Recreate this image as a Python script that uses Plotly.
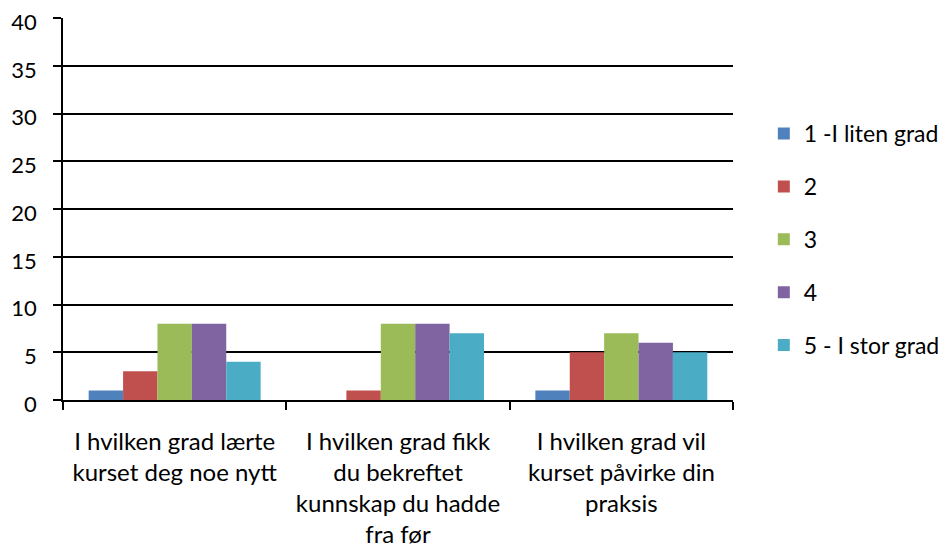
import plotly.graph_objects as go

categories = [
    "I hvilken grad lærte<br>kurset deg noe nytt",
    "I hvilken grad fikk<br>du bekreftet<br>kunnskap du hadde<br>fra før",
    "I hvilken grad vil<br>kurset påvirke din<br>praksis",
]
series_names = ["1 -I liten grad", "2", "3", "4", "5 - I stor grad"]
values_1 = [1, 0, 1]
values_2 = [3, 1, 5]
values_3 = [8, 8, 7]
values_4 = [8, 8, 6]
values_5 = [4, 7, 5]
series_values = [values_1, values_2, values_3, values_4, values_5]
colors = ["#4F81BD", "#C0504D", "#9BBB59", "#8064A2", "#4BACC6"]
y_ticks = [0, 5, 10, 15, 20, 25, 30, 35, 40]

FONT = "Lato"

fig = go.Figure()
for i, (name, vals, col) in enumerate(zip(series_names, series_values, colors)):
    fig.add_trace(go.Bar(
        x=categories, y=vals, name=name, marker_color=col,
        marker_line_width=0, legendgroup=f"g{i}",
    ))

fig.update_layout(
    width=943, height=540,
    margin=dict(l=55, r=218, t=10, b=148, autoexpand=False),
    paper_bgcolor="white", plot_bgcolor="white",
    font=dict(family=FONT, size=24, color="black"),
    barmode="group", bargap=0.23, bargroupgap=0,
    showlegend=True,
    legend=dict(
        x=1.046, y=0.42, xanchor="left", yanchor="middle",
        font=dict(family=FONT, size=23, color="black"),
        tracegroupgap=20, itemwidth=30, traceorder="grouped",
    ),
)
fig.update_yaxes(
    range=[0, 40.02], tickvals=y_ticks, ticktext=[str(v) for v in y_ticks],
    showgrid=True, gridcolor="black", gridwidth=1.5,
    showline=True, linecolor="black", linewidth=1.5,
    ticks="outside", ticklen=8, tickcolor="black", tickwidth=1.5,
    zeroline=False, ticklabelstandoff=12, ticklabelshift=4, automargin=False,
    ticklabeloverflow="allow", tickfont=dict(family=FONT, size=22, color="black"),
)
fig.update_xaxes(
    showline=True, linecolor="black", linewidth=2,
    ticks="outside", tickson="boundaries", ticklen=8, tickcolor="black", tickwidth=1.5,
    showgrid=False, ticklabelstandoff=19, automargin=False,
)

fig.write_html("out.html")
